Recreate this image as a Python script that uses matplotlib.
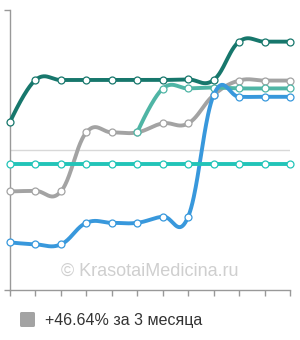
import numpy as np
import matplotlib
matplotlib.use("Agg")
import matplotlib.pyplot as plt
from matplotlib.patches import FancyBboxPatch

# ---- data (arbitrary 0..100 scale) ----
x_idx = list(range(12))
dark_teal = [60.0, 75.0, 75.0, 75.0, 75.0, 75.0, 75.0, 75.2, 75.0, 88.7, 88.7, 88.7]
light_teal = [np.nan, np.nan, np.nan, np.nan, np.nan, 56.3, 71.9, 72.0, 72.3, 72.0, 72.0, 72.0]
cyan = [45.0] * 12
gray = [35.2, 35.4, 35.2, 56.3, 56.3, 56.3, 59.5, 59.5, 69.6, 74.8, 74.8, 74.8]
blue = [17.0, 16.3, 16.3, 24.0, 24.0, 24.0, 26.2, 26.2, 69.6, 69.0, 69.0, 69.0]
legend_label = "+46.64% за 3 месяца"
watermark = "© KrasotaiMedicina.ru"

colors = {
    "dark_teal": "#17776c",
    "light_teal": "#4fb5a5",
    "cyan": "#22c4b8",
    "gray": "#a3a3a3",
    "blue": "#3898dc",
}


def spline(xs, ys, n=40, k=0.4):
    """Highcharts-like spline: cubic Bezier with handles 0.4 of the interval."""
    xs = np.asarray(xs, float)
    ys = np.asarray(ys, float)
    m = ~np.isnan(ys)
    xs, ys = xs[m], ys[m]
    N = len(xs)
    lc = np.zeros((N, 2))
    rc = np.zeros((N, 2))
    for i in range(N):
        if 0 < i < N - 1:
            slope = (ys[i + 1] - ys[i - 1]) / (xs[i + 1] - xs[i - 1])
            dl = k * (xs[i] - xs[i - 1])
            dr = k * (xs[i + 1] - xs[i])
            lc[i] = (xs[i] - dl, ys[i] - slope * dl)
            rc[i] = (xs[i] + dr, ys[i] + slope * dr)
        else:
            lc[i] = (xs[i], ys[i])
            rc[i] = (xs[i], ys[i])
    ox, oy = [], []
    t = np.linspace(0, 1, n, endpoint=False)
    for i in range(N - 1):
        P0 = np.array([xs[i], ys[i]])
        P1 = rc[i]
        P2 = lc[i + 1]
        P3 = np.array([xs[i + 1], ys[i + 1]])
        b = ((1 - t) ** 3)[:, None] * P0 + (3 * (1 - t) ** 2 * t)[:, None] * P1 \
            + (3 * (1 - t) * t ** 2)[:, None] * P2 + (t ** 3)[:, None] * P3
        ox.append(b[:, 0])
        oy.append(b[:, 1])
    ox.append([xs[-1]])
    oy.append([ys[-1]])
    return xs, ys, np.concatenate(ox), np.concatenate(oy)


fig = plt.figure(figsize=(3.0, 3.4), dpi=100)
ax = fig.add_axes([10 / 300, 50 / 340, 280 / 300, 280 / 340])
ax.set_xlim(0, 11)
ax.set_ylim(0, 100)

ax.axhline(50, color="#d8d8d8", lw=1, zorder=1)

series = [
    (gray, colors["gray"], 3),
    (light_teal, colors["light_teal"], 4),
    (blue, colors["blue"], 5),
    (cyan, colors["cyan"], 6),
    (dark_teal, colors["dark_teal"], 7),
]
for ys, c, z in series:
    px, py, sx, sy = spline(x_idx, ys)
    ax.plot(sx, sy, color=c, lw=2.8, solid_capstyle="round", zorder=z, clip_on=False)
    ax.plot(px, py, "o", ms=5, mfc="white", mec=c, mew=0.9, zorder=z + 0.5, clip_on=False)

for s in ["top", "right"]:
    ax.spines[s].set_visible(False)
for s in ["left", "bottom"]:
    ax.spines[s].set_color("#999999")
    ax.spines[s].set_linewidth(1)
ax.set_xticks(x_idx)
ax.set_xticklabels([])
ax.set_yticks([0, 100])
ax.set_yticklabels([])
ax.tick_params(axis="x", length=4, width=1, color="#999999", direction="out")
ax.tick_params(axis="y", length=4, width=1, color="#999999", direction="out")

fig.text(150 / 300, 1 - 271 / 340, watermark, ha="center", va="center",
         fontsize=13, family="Liberation Sans", color="#cfcfcf", zorder=0)

# legend
sq = FancyBboxPatch((20 / 300, 1 - 327 / 340), 15 / 300, 15 / 340,
                    boxstyle="round,pad=0,rounding_size=0.005",
                    transform=fig.transFigure, facecolor="#a3a3a3", edgecolor="none")
fig.patches.append(sq)
fig.text(45 / 300, 1 - 320 / 340, legend_label, ha="left", va="center",
         fontsize=11.5, family="Liberation Sans", color="#333333")

fig.savefig("out.png", dpi=100)
